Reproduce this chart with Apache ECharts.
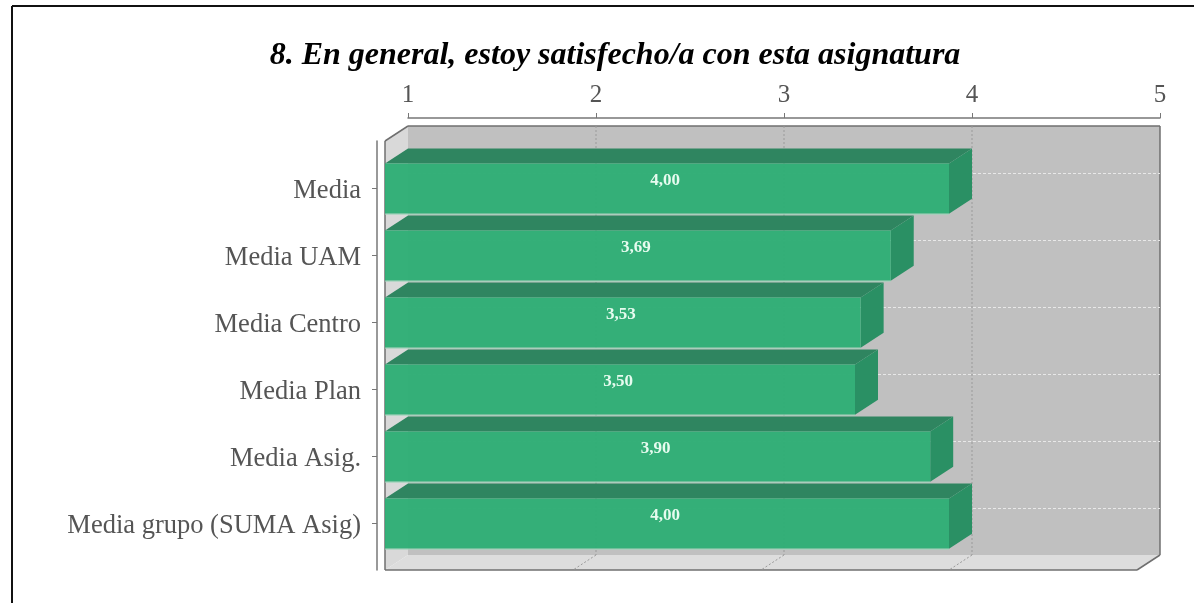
<!DOCTYPE html>
<html><head><meta charset="utf-8">
<style>html,body{margin:0;padding:0;background:#fff}#c{width:1194px;height:603px}</style>
<script src="https://cdn.jsdelivr.net/npm/echarts@6/dist/echarts.min.js"></script>
</head><body><div id="c"></div>
<script>
const titleText = '8. En general, estoy satisfecho/a con esta asignatura';
const categories = ['Media','Media UAM','Media Centro','Media Plan','Media Asig.','Media grupo (SUMA Asig)'];
const values = [4.00,3.69,3.53,3.50,3.90,4.00];
const ticks = [1,2,3,4,5];
const DX = 23, DY = 15;
const FONT = '"Liberation Serif"';

const chart = echarts.init(document.getElementById('c'),null,{renderer:'canvas'});
const poly=(points,fill)=>({type:'polygon',shape:{points},style:{fill,stroke:null}});
const line=(x1,y1,x2,y2,style)=>({type:'line',shape:{x1,y1,x2,y2},style});

function renderFrame(params,api){
  const tl=api.coord([1,1]), br=api.coord([5,0]);
  const L=tl[0],T=tl[1],R=br[0],B=br[1];
  const dark={stroke:'#6f6f6f',lineWidth:1.5,fill:null};
  return {type:'group',children:[
    poly([[L,T-DY],[R,T-DY],[R,B-DY],[L,B-DY]],'#c0c0c0'),
    poly([[L-DX,T],[L,T-DY],[L,B-DY],[L-DX,B]],'#d9d9d9'),
    poly([[L-DX,B],[L,B-DY],[R,B-DY],[R-DX,B]],'#dddddd'),
    line(L,T-DY,R,T-DY,dark),
    line(R,T-DY,R,B-DY,dark),
    line(R,B-DY,R-DX,B,dark),
    line(R-DX,B,L-DX,B,dark),
    line(L-DX,B,L-DX,T,dark),
    line(L-DX,T,L,T-DY,dark)
  ]};
}
function renderGrid(params,api){
  const v=api.value(0);
  const a=api.coord([v,1]), b=api.coord([v,0]);
  const s={stroke:'#9a9a9a',lineWidth:1,lineDash:[2,2],fill:null};
  return {type:'group',children:[
    line(a[0],a[1]-DY,b[0],b[1]-DY,s),
    line(b[0],b[1]-DY,b[0]-DX,b[1],s)
  ]};
}
function renderRow(params,api){
  const c=api.coord([1,api.value(1)]), e=api.coord([5,api.value(1)]);
  const y=c[1]-DY;
  return line(c[0],y,e[0],y,{stroke:'#e8e8e8',lineWidth:1,lineDash:[3,2],fill:null});
}
function renderBar(params,api){
  const v=api.value(0), idx=api.value(1);
  const s=api.coord([1,idx]), e=api.coord([v,idx]);
  const h=api.size([0,1])[1]*0.75;
  const x0=s[0]-DX, x1=e[0]-DX, y0=s[1]-h/2, y1=s[1]+h/2;
  return {type:'group',children:[
    poly([[x0,y0],[x0+DX,y0-DY],[x1+DX,y0-DY],[x1,y0]],'#2f8560'),
    poly([[x1,y0],[x1+DX,y0-DY],[x1+DX,y1-DY],[x1,y1]],'#2a9064'),
    {type:'rect',shape:{x:x0,y:y0,width:x1-x0,height:h},style:{fill:'rgba(46,174,117,0.96)',stroke:null}},
    line(x0,y1+0.5,x1,y1+0.5,{stroke:'#9fd4b9',lineWidth:1,fill:null}),
    {type:'text',x:(x0+x1)/2-2,y:s[1]-8,style:{
      text:api.value(0).toFixed(2).replace('.',','),
      fill:'#e6fbef',font:'bold 17px "Liberation Serif"',align:'center',verticalAlign:'middle'}}
  ]};
}

chart.setOption({
  animation:false,
  backgroundColor:'#ffffff',
  title:{text:titleText,left:610,top:34,textAlign:'center',
    textStyle:{fontFamily:FONT,fontWeight:'bold',fontStyle:'italic',fontSize:32,color:'#000',lineHeight:34}},
  graphic:[
    {type:'line',shape:{x1:12,y1:6,x2:1194,y2:6},style:{stroke:'#111',lineWidth:2}},
    {type:'line',shape:{x1:12,y1:6,x2:12,y2:603},style:{stroke:'#111',lineWidth:2}}
  ],
  grid:[
    {left:408,right:34,top:141,height:429},
    {left:408,right:34,top:155,height:402}
  ],
  xAxis:[
    {gridIndex:0,type:'value',min:1,max:5,interval:1,position:'top',offset:23,
     axisLine:{show:true,onZero:false,lineStyle:{color:'#777',width:1.5}},
     axisTick:{show:true,length:5,lineStyle:{color:'#777'}},
     axisLabel:{fontFamily:FONT,fontSize:25,color:'#555',margin:10,formatter:v=>String(v)},
     splitLine:{show:false}},
    {gridIndex:1,type:'value',min:1,max:5,interval:1,show:false}
  ],
  yAxis:[
    {gridIndex:0,type:'value',min:0,max:1,position:'left',offset:31,
     axisLine:{show:true,onZero:false,lineStyle:{color:'#777',width:1.5}},
     axisTick:{show:false},axisLabel:{show:false},splitLine:{show:false}},
    {gridIndex:1,type:'category',data:categories,inverse:true,position:'left',offset:31,
     axisLine:{show:false},
     axisTick:{show:true,alignWithLabel:true,length:5,lineStyle:{color:'#777'}},
     axisLabel:{margin:16,formatter:'{a|{value}}',
       rich:{a:{fontFamily:FONT,fontSize:26.5,color:'#555',padding:[6,0,0,0]}}},
     splitLine:{show:false}}
  ],
  series:[
    {type:'custom',xAxisIndex:0,yAxisIndex:0,clip:false,z:1,silent:true,
     renderItem:renderFrame,data:[[1,0]],encode:{x:0,y:1}},
    {type:'custom',xAxisIndex:0,yAxisIndex:0,clip:false,z:2,silent:true,
     renderItem:renderGrid,data:ticks.slice(1,-1).map(t=>[t,0]),encode:{x:0,y:1}},
    {type:'custom',xAxisIndex:1,yAxisIndex:1,clip:false,z:3,silent:true,
     renderItem:renderRow,data:categories.map((c,i)=>[1,i]),encode:{x:0,y:1}},
    {type:'custom',xAxisIndex:1,yAxisIndex:1,clip:false,z:4,
     renderItem:renderBar,data:values.map((v,i)=>[v,i]),encode:{x:0,y:1}}
  ]
});
</script></body></html>
